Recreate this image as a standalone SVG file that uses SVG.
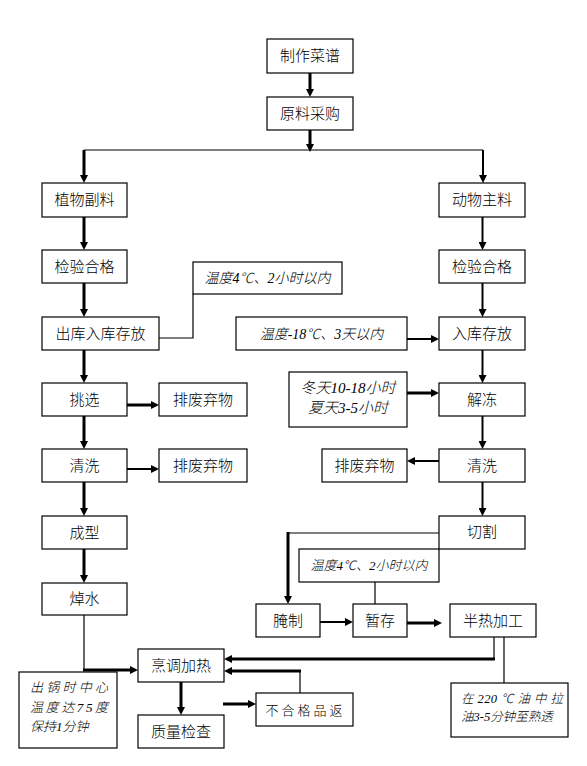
<svg xmlns="http://www.w3.org/2000/svg" width="587" height="766" viewBox="0 0 587 766">
<style>
.b{fill:#fff;stroke:#000;stroke-width:1.2}
.t{font-family:"Noto Sans CJK SC","Liberation Sans",sans-serif;font-size:15px;font-weight:300;text-anchor:middle;fill:#000}
.n{font-family:"Liberation Serif","Noto Sans CJK SC",serif;font-style:italic;font-weight:300;fill:#000}
.c{fill:none;stroke:#000}
.th{stroke-width:1.2}
.k3{stroke-width:3;marker-end:url(#ah)}
.k2{stroke-width:2;marker-end:url(#ah)}
</style>
<defs>
<marker id="ah" markerUnits="userSpaceOnUse" viewBox="0 0 8 8" markerWidth="8" markerHeight="8" refX="3" refY="4" orient="auto"><path d="M0,0 L8,4 L0,8 z" fill="#000"/></marker>
</defs>
<rect width="587" height="766" fill="#fff"/>
<g id="connectors">
<line class="c k3" x1="310" y1="73" x2="310" y2="92"/>
<line class="c k3" x1="310" y1="130" x2="310" y2="147"/>
<line class="c th" x1="84" y1="150" x2="483" y2="150"/>
<line class="c k3" x1="84" y1="150" x2="84" y2="178"/>
<line class="c k2" x1="483" y1="150" x2="483" y2="178"/>
<line class="c k3" x1="84" y1="217" x2="84" y2="245"/>
<line class="c k3" x1="84" y1="283" x2="84" y2="312"/>
<line class="c k3" x1="84" y1="350" x2="84" y2="378"/>
<line class="c k3" x1="84" y1="416" x2="84" y2="444"/>
<line class="c k3" x1="84" y1="482" x2="84" y2="511"/>
<line class="c k3" x1="84" y1="549" x2="84" y2="578"/>
<line class="c k2" x1="482.5" y1="217" x2="482.5" y2="245"/>
<line class="c k2" x1="482.5" y1="283" x2="482.5" y2="312"/>
<line class="c k2" x1="482.5" y1="350" x2="482.5" y2="378"/>
<line class="c k2" x1="482.5" y1="416" x2="482.5" y2="444"/>
<line class="c k2" x1="482.5" y1="482" x2="482.5" y2="511"/>
<line class="c k3" x1="127" y1="405" x2="154" y2="405"/>
<line class="c k2" x1="127" y1="469" x2="154" y2="469"/>
<polyline class="c th" points="159,338 193,338 193,294"/>
<line class="c k2" x1="407" y1="339" x2="434" y2="339"/>
<line class="c k3" x1="407" y1="393" x2="434" y2="393"/>
<line class="c k2" x1="439" y1="461" x2="412" y2="461"/>
<polyline class="c th" points="439,533 288,533"/>
<line class="c k3" x1="288" y1="532" x2="288" y2="599"/>
<line class="c th" x1="375" y1="582" x2="375" y2="604"/>
<line class="c k2" x1="320" y1="622" x2="348" y2="622"/>
<line class="c k3" x1="407" y1="623" x2="437" y2="623"/>
<line class="c th" x1="494" y1="637" x2="494" y2="660"/>
<line class="c k3" x1="495" y1="659" x2="229" y2="659"/>
<line class="c th" x1="504" y1="637" x2="504" y2="683"/>
<line class="c th" x1="300" y1="693" x2="300" y2="671"/>
<line class="c k3" x1="301" y1="671" x2="229" y2="671"/>
<line class="c k3" x1="181" y1="682" x2="181" y2="710"/>
<line class="c k3" x1="223" y1="704" x2="251" y2="704"/>
<line class="c th" x1="84" y1="615" x2="84" y2="671"/>
<line class="c k3" x1="83" y1="670" x2="133" y2="670"/>
</g>
<g id="n1"><rect class="b" x="267" y="39" width="86" height="34"/><text class="t" x="310" y="61">制作菜谱</text></g>
<g id="n2"><rect class="b" x="267" y="97" width="86" height="33"/><text class="t" x="310" y="118.5">原料采购</text></g>
<g id="n3"><rect class="b" x="42" y="183" width="85" height="34"/><text class="t" x="84.5" y="205">植物副料</text></g>
<g id="n4"><rect class="b" x="42" y="250" width="85" height="33"/><text class="t" x="84.5" y="271.5">检验合格</text></g>
<g id="n5"><rect class="b" x="42" y="317" width="117" height="33"/><text class="t" x="100.5" y="338.5">出库入库存放</text></g>
<g id="n6"><rect class="b" x="42" y="383" width="85" height="33"/><text class="t" x="84.5" y="404.5">挑选</text></g>
<g id="n7"><rect class="b" x="42" y="449" width="85" height="33"/><text class="t" x="84.5" y="470.5">清洗</text></g>
<g id="n8"><rect class="b" x="42" y="516" width="85" height="33"/><text class="t" x="84.5" y="537.5">成型</text></g>
<g id="n9"><rect class="b" x="42" y="583" width="85" height="32"/><text class="t" x="84.5" y="604">焯水</text></g>
<g id="n10"><rect class="b" x="159" y="383" width="88" height="33"/><text class="t" x="203" y="404.5">排废弃物</text></g>
<g id="n11"><rect class="b" x="159" y="449" width="88" height="33"/><text class="t" x="203" y="470.5">排废弃物</text></g>
<g id="n12"><rect class="b" x="439" y="183" width="86" height="34"/><text class="t" x="482" y="205">动物主料</text></g>
<g id="n13"><rect class="b" x="439" y="250" width="86" height="33"/><text class="t" x="482" y="271.5">检验合格</text></g>
<g id="n14"><rect class="b" x="439" y="317" width="86" height="33"/><text class="t" x="482" y="338.5">入库存放</text></g>
<g id="n15"><rect class="b" x="439" y="383" width="86" height="33"/><text class="t" x="482" y="404.5">解冻</text></g>
<g id="n16"><rect class="b" x="439" y="449" width="86" height="33"/><text class="t" x="482" y="470.5">清洗</text></g>
<g id="n17"><rect class="b" x="439" y="516" width="86" height="33"/><text class="t" x="482" y="537">切割</text></g>
<g id="n18"><rect class="b" x="322" y="449" width="85" height="33"/><text class="t" x="364.5" y="470.5">排废弃物</text></g>
<g id="n19"><rect class="b" x="256" y="604" width="64" height="33"/><text class="t" x="288" y="625.5">腌制</text></g>
<g id="n20"><rect class="b" x="353" y="604" width="54" height="33"/><text class="t" x="380" y="625.5">暂存</text></g>
<g id="n21"><rect class="b" x="450" y="604" width="86" height="33"/><text class="t" x="493" y="625.5">半热加工</text></g>
<g id="n22"><rect class="b" x="138" y="649" width="86" height="33"/><text class="t" x="181" y="670.5">烹调加热</text></g>
<g id="n23"><rect class="b" x="138" y="715" width="86" height="33"/><text class="t" x="181" y="736.5">质量检查</text></g>
<g id="n24"><rect class="b" x="256" y="693" width="97" height="33"/><text class="t" x="305.5" y="714.5" style="font-size:13px;letter-spacing:3px">不合格品返</text></g>
<g id="note1"><rect class="b" x="193" y="262" width="149" height="32"/><text class="n" x="267.5" y="283" text-anchor="middle" font-size="14">温度4℃、2小时以内</text></g>
<g id="note2"><rect class="b" x="236" y="317" width="171" height="33"/><text class="n" x="321.5" y="338.5" text-anchor="middle" font-size="14">温度-18℃、3天以内</text></g>
<g id="note3"><rect class="b" x="289" y="372" width="118" height="55"/><text class="n" x="348" y="392.5" text-anchor="middle" font-size="15">冬天10-18小时</text><text class="n" x="348" y="412.5" text-anchor="middle" font-size="15">夏天3-5小时</text></g>
<g id="note4"><rect class="b" x="299" y="549" width="140" height="33"/><text class="n" x="369" y="570" text-anchor="middle" font-size="13">温度4℃、2小时以内</text></g>
<g id="note5"><rect class="b" x="19" y="672" width="98" height="76"/><text class="n" x="30" y="692" font-size="13" textLength="78" lengthAdjust="spacing">出锅时中心</text><text class="n" x="30" y="711.5" font-size="13" textLength="78" lengthAdjust="spacing">温度达75度</text><text class="n" x="30" y="730.5" font-size="13">保持1分钟</text></g>
<g id="note6"><rect class="b" x="451" y="683" width="117" height="54"/><text class="n" x="461" y="702.5" font-size="12.5" textLength="102" lengthAdjust="spacing">在 220 ℃ 油 中 拉</text><text class="n" x="461" y="721" font-size="12.5">油3-5分钟至熟透</text></g>
</svg>
